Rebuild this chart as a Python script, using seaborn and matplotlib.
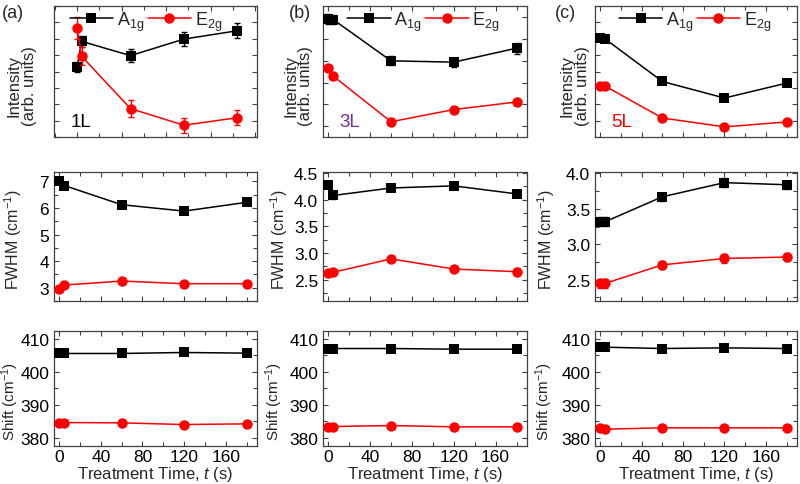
import numpy as np
import pandas as pd
import matplotlib
matplotlib.use("Agg")
import matplotlib.pyplot as plt
import seaborn as sns
from matplotlib.ticker import MultipleLocator, FormatStrFormatter, NullFormatter

# --- data ---
t = [0, 5, 60, 120, 180]

# Intensity (arb. units)
int_a_A1g = [4.26, 5.84, 4.97, 5.98, 6.49]
int_a_A1g_err = [0.32, 0.35, 0.42, 0.42, 0.47]
int_a_E2g = [6.65, 4.93, 1.73, 0.72, 1.18]
int_a_E2g_err = [0.66, 0.55, 0.50, 0.45, 0.47]

int_b_A1g = [5.92, 5.89, 4.00, 3.94, 4.58]
int_b_A1g_err = [0.25, 0.20, 0.21, 0.21, 0.25]
int_b_E2g = [3.68, 3.29, 1.20, 1.76, 2.11]
int_b_E2g_err = [0.10, 0.10, 0.10, 0.10, 0.10]

int_c_A1g = [6.02, 5.98, 3.39, 2.38, 3.29]
int_c_A1g_err = [0.15, 0.15, 0.15, 0.15, 0.15]
int_c_E2g = [3.09, 3.10, 1.16, 0.62, 0.92]
int_c_E2g_err = [0.15, 0.15, 0.15, 0.15, 0.15]

# FWHM (cm-1)
fw_a_A1g = [7.00, 6.84, 6.12, 5.88, 6.21]
fw_a_E2g = [2.94, 3.10, 3.25, 3.15, 3.15]
fw_b_A1g = [4.28, 4.08, 4.22, 4.26, 4.11]
fw_b_E2g = [2.63, 2.64, 2.89, 2.70, 2.65]
fw_c_A1g = [3.32, 3.32, 3.67, 3.87, 3.84]
fw_c_E2g = [2.45, 2.45, 2.71, 2.80, 2.82]

# Raman shift (cm-1)
sh_a_A1g = [405.5, 405.5, 405.5, 405.8, 405.6]
sh_a_E2g = [384.5, 384.6, 384.5, 384.0, 384.2]
sh_b_A1g = [407.0, 407.0, 407.0, 406.8, 406.8]
sh_b_E2g = [383.3, 383.4, 383.7, 383.3, 383.3]
sh_c_A1g = [407.4, 407.4, 407.0, 407.2, 407.0]
sh_c_E2g = [382.8, 382.6, 383.0, 383.0, 383.0]

fw_err = [0.06, 0.06, 0.06, 0.06, 0.06]
sh_err = [0.7, 0.7, 0.7, 0.7, 0.7]

panel_labels = ["(a)", "(b)", "(c)"]
layer_labels = ["1L", "3L", "5L"]
layer_colors = ["black", "#7030a0", "red"]

sns.set_style("ticks")
plt.rcParams["font.family"] = ["Liberation Sans", "DejaVu Sans"]
plt.rcParams["mathtext.fontset"] = "custom"
plt.rcParams["mathtext.rm"] = "Liberation Sans"
plt.rcParams["mathtext.it"] = "Liberation Sans:italic"
plt.rcParams.update({
    "xtick.direction": "in", "ytick.direction": "in",
    "xtick.top": True, "ytick.right": True,
    "xtick.major.size": 3.5, "ytick.major.size": 3.5,
    "xtick.minor.size": 3.0, "ytick.minor.size": 3.0,
    "xtick.major.width": 0.8, "ytick.major.width": 0.8,
    "xtick.minor.width": 0.8, "ytick.minor.width": 0.8,
    "xtick.color": "#404040", "ytick.color": "#404040",
    "xtick.labelcolor": "black", "ytick.labelcolor": "black",
    "axes.edgecolor": "#404040", "axes.linewidth": 0.9,
    "xtick.labelsize": 12.5, "ytick.labelsize": 12.5,
})

fig = plt.figure(figsize=(8, 4.85), dpi=100)

col_left = [54, 323, 595]
col_width = [203, 204, 202]
row_top = [7, 173, 332]
row_bot = [138, 302, 447]


def make_ax(r, c):
    W, H = 800, 485
    return fig.add_axes([col_left[c] / W, 1 - row_bot[r] / H,
                         col_width[c] / W, (row_bot[r] - row_top[r]) / H])


def draw(ax, a1g, a1g_err, e2g, e2g_err, legend=False):
    df = pd.DataFrame({"t": t, "A": a1g, "E": e2g})
    ax.errorbar(t, a1g, yerr=a1g_err, fmt="none", ecolor="black",
                elinewidth=1.0, capsize=2.5, capthick=1.0, zorder=4)
    ax.errorbar(t, e2g, yerr=e2g_err, fmt="none", ecolor="red",
                elinewidth=1.0, capsize=2.5, capthick=1.0, zorder=4)
    sns.lineplot(data=df, x="t", y="A", ax=ax, color="black", marker="s",
                 markersize=6.5, markeredgewidth=0, linewidth=1.1,
                 label="A$_{\\mathrm{1g}}$" if legend else None, legend=legend, zorder=3)
    sns.lineplot(data=df, x="t", y="E", ax=ax, color="red", marker="o",
                 markersize=7.5, markeredgewidth=0, linewidth=1.1,
                 label="E$_{\\mathrm{2g}}$" if legend else None, legend=legend, zorder=3)
    ax.set_xlabel("")
    ax.set_ylabel("")


intensity = [
    (int_a_A1g, int_a_A1g_err, int_a_E2g, int_a_E2g_err),
    (int_b_A1g, int_b_A1g_err, int_b_E2g, int_b_E2g_err),
    (int_c_A1g, int_c_A1g_err, int_c_E2g, int_c_E2g_err),
]
fwhm = [(fw_a_A1g, fw_a_E2g), (fw_b_A1g, fw_b_E2g), (fw_c_A1g, fw_c_E2g)]
shift = [(sh_a_A1g, sh_a_E2g), (sh_b_A1g, sh_b_E2g), (sh_c_A1g, sh_c_E2g)]

int_ylim = [(0, 8), (0.5, 6.52), (0, 8)]
fw_ylim = [(2.5, 7.35), (2.1, 4.52), (2.2, 4.02)]
fw_major = [1.0, 0.5, 0.5]
fw_fmt = ["%d", "%.1f", "%.1f"]
legend_x = [0.453, 0.493, 0.495]
int_label_x = [-0.084, -0.049, -0.025]
fw_label_x = [-0.15, -0.162, -0.188]
sh_label_x = [-0.163, -0.186, -0.198]

for c in range(3):
    # --- row 1: intensity ---
    ax = make_ax(0, c)
    a, ae, e, ee = intensity[c]
    draw(ax, a, ae, e, ee, legend=True)
    if c == 0:
        ax.set_xlim(-26, 202)
        ax.xaxis.set_major_locator(MultipleLocator(50))
        ax.xaxis.set_minor_locator(MultipleLocator(25))
    else:
        ax.set_xlim(-5, 190)
        ax.xaxis.set_major_locator(MultipleLocator(40))
        ax.xaxis.set_minor_locator(MultipleLocator(20))
    ax.set_ylim(*int_ylim[c])
    ax.yaxis.set_major_locator(MultipleLocator(1))
    ax.xaxis.set_major_formatter(NullFormatter())
    ax.yaxis.set_major_formatter(NullFormatter())
    ax.set_ylabel("Intensity\n(arb. units)", fontsize=12, linespacing=1.0)
    ax.yaxis.set_label_coords(int_label_x[c], 0.40)
    ax.legend(loc="center", bbox_to_anchor=(legend_x[c], 0.885), ncol=2,
              frameon=False, fontsize=13, handlelength=2.4,
              handletextpad=0.2, columnspacing=0.2, borderpad=0.1)
    ax.text(0.08, 0.12, layer_labels[c], transform=ax.transAxes,
            fontsize=13.5, color=layer_colors[c], ha="left", va="center")
    fig.text((col_left[c] - 52 + [0, 18, 12][c]) / 800, 1 - 13 / 485,
             panel_labels[c], fontsize=13, ha="left", va="center")

    # --- row 2: FWHM ---
    ax = make_ax(1, c)
    a, e = fwhm[c]
    draw(ax, a, fw_err, e, fw_err)
    ax.set_xlim(-5, 190)
    ax.xaxis.set_major_locator(MultipleLocator(40))
    ax.xaxis.set_minor_locator(MultipleLocator(20))
    ax.xaxis.set_major_formatter(NullFormatter())
    ax.set_ylim(*fw_ylim[c])
    ax.yaxis.set_major_locator(MultipleLocator(fw_major[c]))
    ax.yaxis.set_minor_locator(MultipleLocator(fw_major[c] / 2))
    ax.yaxis.set_major_formatter(FormatStrFormatter(fw_fmt[c]))
    ax.set_ylabel("FWHM (cm$^{-1}$)", fontsize=11.5)
    ax.yaxis.set_label_coords(fw_label_x[c], 0.48)

    # --- row 3: shift ---
    ax = make_ax(2, c)
    a, e = shift[c]
    draw(ax, a, sh_err, e, sh_err)
    ax.set_xlim(-5, 190)
    ax.xaxis.set_major_locator(MultipleLocator(40))
    ax.xaxis.set_minor_locator(MultipleLocator(20))
    ax.set_ylim(377.5, 412.3)
    ax.yaxis.set_major_locator(MultipleLocator(10))
    ax.yaxis.set_minor_locator(MultipleLocator(5))
    ax.set_ylabel("Shift (cm$^{-1}$)", fontsize=11)
    ax.yaxis.set_label_coords(sh_label_x[c], 0.40)
    ax.set_xlabel("Treatment Time, $\\mathit{t}$ (s)", fontsize=12, labelpad=0)
    ax.tick_params(axis="x", pad=2)

fig.savefig("out.png", dpi=100)
